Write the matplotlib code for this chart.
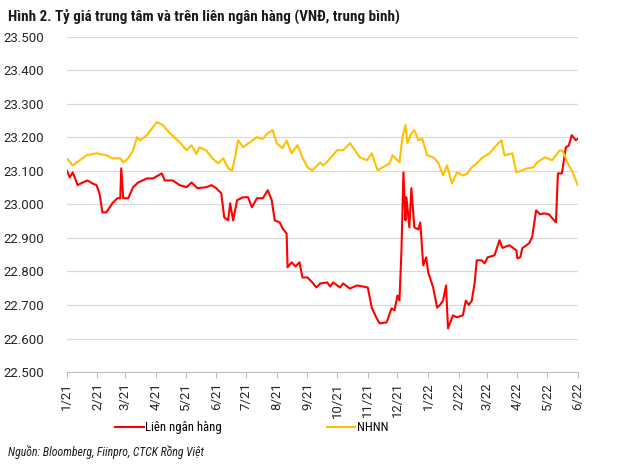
import matplotlib
matplotlib.use("Agg")
import matplotlib.pyplot as plt
from matplotlib.ticker import FuncFormatter
import pandas as pd

# NHNN (central rate)
nhnn_dates = [
    "2021-01-01", "2021-01-07", "2021-01-14", "2021-01-21", "2021-01-31", "2021-02-10",
    "2021-02-16", "2021-02-24", "2021-02-27", "2021-03-04", "2021-03-09", "2021-03-13",
    "2021-03-16", "2021-03-23", "2021-03-29", "2021-04-02", "2021-04-08", "2021-04-15",
    "2021-04-25", "2021-05-02", "2021-05-07", "2021-05-12", "2021-05-15", "2021-05-22",
    "2021-05-28", "2021-06-03", "2021-06-08", "2021-06-13", "2021-06-17", "2021-06-20",
    "2021-06-23", "2021-06-28", "2021-07-05", "2021-07-12", "2021-07-18", "2021-07-23",
    "2021-07-28", "2021-08-01", "2021-08-07", "2021-08-11", "2021-08-16", "2021-08-22",
    "2021-08-27", "2021-09-01", "2021-09-06", "2021-09-14", "2021-09-17", "2021-09-24",
    "2021-10-01", "2021-10-07", "2021-10-14", "2021-10-19", "2021-10-24", "2021-10-31",
    "2021-11-05", "2021-11-11", "2021-11-16", "2021-11-23", "2021-11-26", "2021-12-03",
    "2021-12-06", "2021-12-09", "2021-12-11", "2021-12-15", "2021-12-18", "2021-12-22",
    "2021-12-26", "2021-12-31", "2022-01-06", "2022-01-11", "2022-01-16", "2022-01-20",
    "2022-01-25", "2022-01-30", "2022-02-05", "2022-02-09", "2022-02-14", "2022-02-19",
    "2022-02-25", "2022-03-04", "2022-03-09", "2022-03-16", "2022-03-19", "2022-03-27",
    "2022-03-31", "2022-04-11", "2022-04-17", "2022-04-21", "2022-04-29", "2022-05-06",
    "2022-05-14", "2022-05-17", "2022-05-22", "2022-05-27", "2022-06-01",
]
nhnn_values = [
    23137, 23116, 23131, 23146, 23152, 23146,
    23137, 23137, 23125, 23137, 23161, 23200,
    23190, 23206, 23230, 23245, 23236, 23212,
    23185, 23161, 23176, 23150, 23170, 23160,
    23137, 23122, 23137, 23107, 23101, 23140,
    23191, 23170, 23185, 23200, 23195, 23212,
    23221, 23182, 23167, 23190, 23152, 23176,
    23140, 23110, 23101, 23125, 23115, 23137,
    23161, 23161, 23182, 23161, 23140, 23131,
    23152, 23101, 23110, 23122, 23146, 23125,
    23200, 23236, 23182, 23212, 23221, 23191,
    23195, 23146, 23140, 23125, 23086, 23116,
    23062, 23095, 23086, 23090, 23110, 23122,
    23140, 23152, 23170, 23191, 23146, 23152,
    23095, 23107, 23110, 23125, 23140, 23131,
    23161, 23158, 23122, 23095, 23057,
]

# Lien ngan hang (interbank rate)
lnh_dates = [
    "2021-01-01", "2021-01-04", "2021-01-07", "2021-01-12", "2021-01-17", "2021-01-22",
    "2021-01-27", "2021-01-31", "2021-02-03", "2021-02-06", "2021-02-10", "2021-02-16",
    "2021-02-21", "2021-02-24", "2021-02-25", "2021-02-27", "2021-03-04", "2021-03-09",
    "2021-03-14", "2021-03-23", "2021-03-29", "2021-04-07", "2021-04-10", "2021-04-18",
    "2021-04-25", "2021-05-02", "2021-05-07", "2021-05-13", "2021-05-22", "2021-05-27",
    "2021-06-01", "2021-06-06", "2021-06-09", "2021-06-13", "2021-06-15", "2021-06-18",
    "2021-06-22", "2021-06-28", "2021-07-03", "2021-07-07", "2021-07-12", "2021-07-18",
    "2021-07-23", "2021-07-27", "2021-07-30", "2021-08-04", "2021-08-07", "2021-08-11",
    "2021-08-12", "2021-08-16", "2021-08-20", "2021-08-24", "2021-08-27", "2021-09-01",
    "2021-09-06", "2021-09-10", "2021-09-14", "2021-09-21", "2021-09-24", "2021-09-27",
    "2021-10-04", "2021-10-07", "2021-10-14", "2021-10-21", "2021-10-27", "2021-11-01",
    "2021-11-05", "2021-11-10", "2021-11-13", "2021-11-20", "2021-11-25", "2021-11-28",
    "2021-12-01", "2021-12-03", "2021-12-05", "2021-12-07", "2021-12-09", "2021-12-10",
    "2021-12-13", "2021-12-15", "2021-12-18", "2021-12-22", "2021-12-24", "2021-12-27",
    "2021-12-30", "2022-01-01", "2022-01-06", "2022-01-10", "2022-01-13", "2022-01-16",
    "2022-01-19", "2022-01-21", "2022-01-26", "2022-01-30", "2022-02-05", "2022-02-08",
    "2022-02-11", "2022-02-14", "2022-02-17", "2022-02-19", "2022-02-24", "2022-02-27",
    "2022-03-02", "2022-03-09", "2022-03-14", "2022-03-17", "2022-03-24", "2022-03-31",
    "2022-04-01", "2022-04-04", "2022-04-06", "2022-04-13", "2022-04-16", "2022-04-20",
    "2022-04-24", "2022-04-28", "2022-05-03", "2022-05-10", "2022-05-12", "2022-05-16",
    "2022-05-20", "2022-05-23", "2022-05-26", "2022-05-30", "2022-06-01",
]
lnh_values = [
    23101, 23080, 23095, 23057, 23065, 23071,
    23062, 23057, 23033, 22976, 22976, 23003,
    23018, 23018, 23107, 23018, 23018, 23051,
    23065, 23077, 23077, 23092, 23071, 23071,
    23057, 23051, 23065, 23048, 23051, 23057,
    23048, 23033, 22961, 22952, 23003, 22952,
    23012, 23021, 23021, 22991, 23018, 23018,
    23042, 23012, 22952, 22946, 22928, 22913,
    22812, 22827, 22815, 22827, 22782, 22782,
    22767, 22752, 22764, 22767, 22755, 22767,
    22752, 22764, 22749, 22758, 22755, 22752,
    22692, 22660, 22645, 22648, 22690, 22684,
    22728, 22713, 22863, 23095, 22952, 23021,
    22931, 23048, 22931, 22925, 22946, 22818,
    22842, 22797, 22752, 22692, 22700, 22713,
    22758, 22630, 22669, 22663, 22669, 22713,
    22700, 22713, 22767, 22833, 22833, 22824,
    22842, 22848, 22893, 22870, 22878, 22863,
    22839, 22842, 22869, 22884, 22902, 22982,
    22970, 22973, 22970, 22946, 23092, 23092,
    23170, 23175, 23206, 23191, 23195,
]

tick_months = pd.date_range("2021-01-01", "2022-06-01", freq="MS")

plt.rcParams['font.family'] = ['Roboto', 'DejaVu Sans']
cond = ['Roboto Condensed', 'DejaVu Sans']

fig = plt.figure(figsize=(6.3, 4.68), dpi=100)
ax = fig.add_axes([0.106, 0.205, 0.811, 0.717])

ax.plot(pd.to_datetime(lnh_dates), lnh_values, color='#FF0000', lw=1.5, label='Liên ngân hàng')
ax.plot(pd.to_datetime(nhnn_dates), nhnn_values, color='#FFC000', lw=1.5, label='NHNN')

ax.set_ylim(22500, 23500)
ax.set_yticks(range(22500, 23501, 100))
ax.yaxis.set_major_formatter(FuncFormatter(lambda v, p: f"{v/1000:.3f}"))
ax.set_xlim(tick_months[0], tick_months[-1])
ax.set_xticks(tick_months)
ax.set_xticklabels([f"{d.month}/{d.strftime('%y')}" for d in tick_months], rotation=90)

ax.grid(axis='y', color='#D9D9D9', lw=0.9)
ax.set_axisbelow(True)
for s in ['left', 'right', 'top']:
    ax.spines[s].set_visible(False)
ax.spines['bottom'].set_color('#BFBFBF')
ax.tick_params(axis='y', length=0, labelsize=9.5, colors='#262626', pad=16)
ax.tick_params(axis='x', length=4, color='#BFBFBF', labelsize=9.5, labelcolor='#262626')

fig.text(0.013, 0.966, "Hình 2. Tỷ giá trung tâm và trên liên ngân hàng (VNĐ, trung bình)",
         fontsize=10.8, fontweight='bold', va='center', color='#1a1a1a', family=cond)
fig.legend(loc='center', bbox_to_anchor=(0.4, 0.0855), ncol=2, frameon=False,
           prop={'family': cond, 'size': 9.2}, columnspacing=8.2, handlelength=2.2,
           handletextpad=0.15)
fig.text(0.013, 0.034, "Nguồn: Bloomberg, Fiinpro, CTCK Rồng Việt",
         fontsize=8.5, style='italic', va='center', color='#1a1a1a', family=cond)

fig.savefig("out.png", dpi=100)
